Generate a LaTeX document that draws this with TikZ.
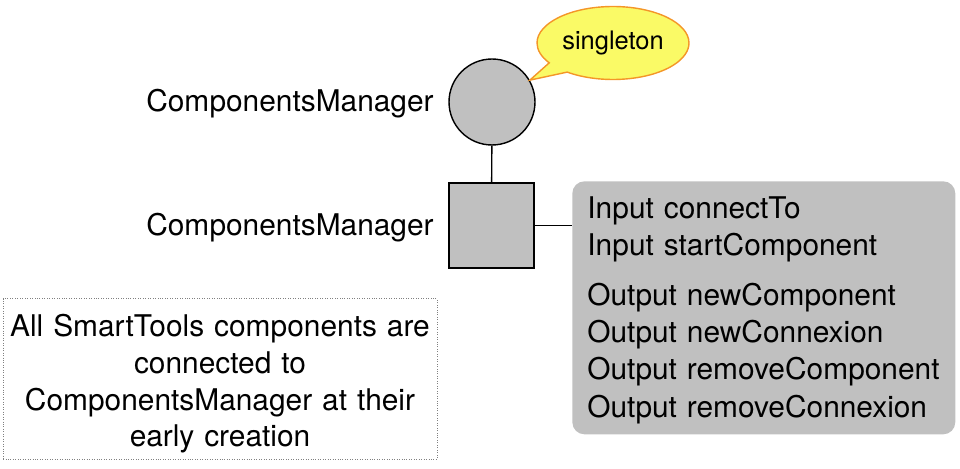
\documentclass[tikz,border=0pt]{standalone}
\usepackage{fontspec}
\setmainfont{TeX Gyre Heros}
\usepackage{tikz}
\usetikzlibrary{shapes, arrows}

\definecolor{boxgray}{RGB}{192,192,192}
\definecolor{bubbleyellow}{RGB}{250,250,102}
\definecolor{bubbleorange}{RGB}{244,150,40}

\begin{document}
\begin{tikzpicture}[x=0.02cm, y=-0.02cm]
      \tikzstyle{label} = [
        inner sep = 0pt,
        font = \fontsize{17}{21}\selectfont
      ]

      \tikzstyle{instance} = [
        circle,
        draw,
        line width = 0.8pt,
        fill = boxgray,
        inner sep = 0pt,
        minimum size = 1.72cm
      ]

      \tikzstyle{manager} = [
        rectangle,
        draw,
        line width = 0.8pt,
        fill = boxgray,
        inner sep = 0pt,
        minimum size = 1.7cm
      ]

      \tikzstyle{ports} = [
        rectangle,
        fill = boxgray,
        rounded corners = 0.24cm,
        text width = 7.06cm,
        align = left,
        inner xsep = 0.3cm,
        minimum height = 5.06cm,
        font = \fontsize{17}{21.2}\selectfont
      ]

      \tikzstyle{note} = [
        rectangle,
        draw = gray,
        densely dotted,
        text width = 8.48cm,
        align = center,
        inner xsep = 0.1cm,
        minimum height = 3.16cm,
        font = \fontsize{17}{21}\selectfont
      ]

      \tikzstyle{bubble} = [
        ellipse callout,
        draw = bubbleorange,
        line width = 0.8pt,
        fill = bubbleyellow,
        inner sep = 0pt,
        minimum width = 3.04cm,
        minimum height = 1.46cm,
        callout pointer arc = 20,
        font = \fontsize{14.5}{17}\selectfont
      ]

      \useasboundingbox (0,0) rectangle (960,469);

      \node[instance] (singleton) at (492,102) {};
      \node[manager] (manager) at (491.5,225.5) {};
      \node[label, anchor=east] (singleton label) at (434,104)
      {ComponentsManager};
      \node[label, anchor=east] (manager label) at (434,228)
      {ComponentsManager};

      \node[ports, anchor=north west] (ports) at (572,181) {\rule{0pt}{15pt}Input
        connectTo\\Input startComponent\\[7pt]Output
        newComponent\\Output newConnexion\\Output
        removeComponent\\Output removeConnexion};

      \node[note] (note) at (220,379) {\rule{0pt}{18pt}All SmartTools components
        are\\connected to\\ComponentsManager at their\\early creation};

      \node[bubble, callout absolute pointer={(singleton.30)}] (bubble)
      at (613,43) {singleton};

      \draw[line width=0.8pt] (singleton) -- (manager);
      \draw[line width=0.8pt] (manager.east) -- (manager.east -| ports.west);
    \end{tikzpicture}
\end{document}
